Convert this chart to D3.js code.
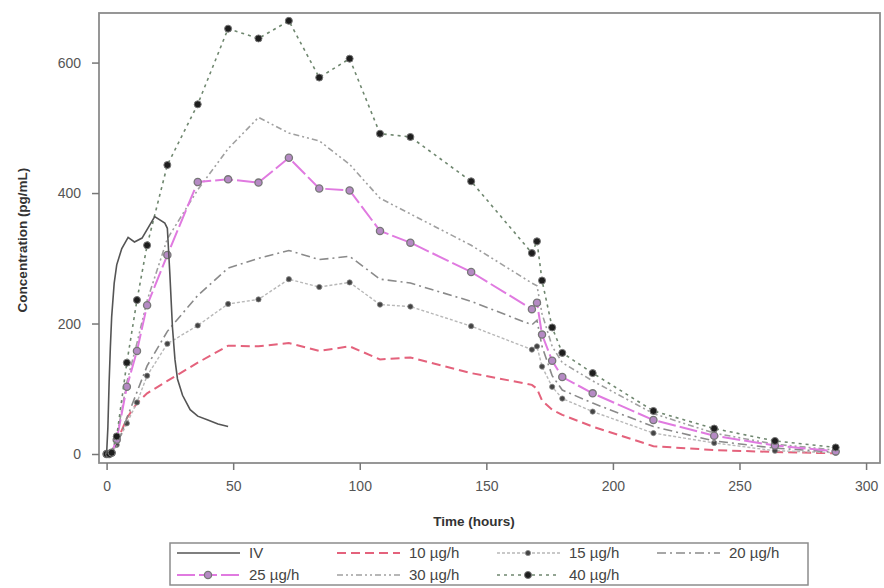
<!DOCTYPE html>
<html><head><meta charset="utf-8">
<script src="https://cdn.jsdelivr.net/npm/d3@7"></script>
<style>body{margin:0;background:#fff;} svg{font-family:"Liberation Sans",Arial,sans-serif;}</style>
</head><body>
<svg id="c" width="884" height="588"></svg>
<script>
const times = [0,1,2,4,8,12,16,24,36,48,60,72,84,96,108,120,144,168,170,172,176,180,192,216,240,264,288];
const ivTimes = [0,0.5,1,1.5,2,3,4,6,8.5,11,14,19,23,24,25,26,27,28,30,33,36,40,44,48];
const ivConc  = [0,40,110,165,210,262,290,315,332,325,331,364,354,346,275,195,145,115,90,68,58,52,46,42];
const c10 = [0,0,2,18,55,78,93,112,140,166,165,170,158,165,145,148,124,106,100,82,68,60,42,12,6,3,1];
const c15 = [0,0,1,14,47,79,120,169,197,230,237,268,256,263,229,226,196,160,165,134,103,85,65,32,17,5,2];
const c20 = [0,0,1,12,55,95,135,188,243,285,300,312,298,303,268,262,234,198,205,165,120,98,78,42,20,9,3];
const c25 = [0,0,2,22,103,158,228,305,417,421,416,454,407,404,342,324,279,222,232,183,143,118,93,52,28,13,4];
const c30 = [0,0,2,25,110,170,235,330,405,468,516,492,480,444,392,368,320,262,258,215,165,140,112,62,32,15,6];
const c40 = [0,0,2,27,140,236,320,443,536,652,637,664,577,606,491,486,418,308,326,266,194,155,124,66,39,20,10];
const xTicks = [0,50,100,150,200,250,300];
const yTicks = [0,200,400,600];
const seriesNames = ["IV","10 µg/h","15 µg/h","20 µg/h","25 µg/h","30 µg/h","40 µg/h"];

const svg = d3.select("#c");
const L=99,R=880,T=13,B=463;
const x = d3.scaleLinear().domain([-3,305.5]).range([L,R]);
const y = d3.scaleLinear().domain([-13.8,676]).range([B,T]);

const styles = {
 "IV":{color:"#555",w:1.6,dash:null,marker:null},
 "10 µg/h":{color:"#e4627c",w:2,dash:"9,5",marker:null},
 "15 µg/h":{color:"#b8b8b8",w:1.4,dash:"3,2",marker:"dot"},
 "20 µg/h":{color:"#8a8a8a",w:1.6,dash:"9,4,2,4",marker:null},
 "25 µg/h":{color:"#e07ae0",w:2,dash:"18,4",marker:"circ"},
 "30 µg/h":{color:"#a0a0a0",w:1.6,dash:"6,3,2,3,2,3",marker:null},
 "40 µg/h":{color:"#6f876f",w:1.6,dash:"3,4",marker:"fill"}
};
const data = {
 "IV": ivTimes.map((t,i)=>[t,ivConc[i]]),
 "10 µg/h": times.map((t,i)=>[t,c10[i]]),
 "15 µg/h": times.map((t,i)=>[t,c15[i]]),
 "20 µg/h": times.map((t,i)=>[t,c20[i]]),
 "25 µg/h": times.map((t,i)=>[t,c25[i]]),
 "30 µg/h": times.map((t,i)=>[t,c30[i]]),
 "40 µg/h": times.map((t,i)=>[t,c40[i]])
};

svg.append("rect").attr("x",L).attr("y",T).attr("width",R-L).attr("height",B-T)
  .attr("fill","none").attr("stroke","#8c8c8c").attr("stroke-width",1.8);

const xa = svg.append("g").attr("transform",`translate(0,${B})`)
  .call(d3.axisBottom(x).tickValues(xTicks).tickSize(7).tickPadding(11));
const ya = svg.append("g").attr("transform",`translate(${L},0)`)
  .call(d3.axisLeft(y).tickValues(yTicks).tickSize(7).tickPadding(11));
[xa,ya].forEach(a=>{
  a.select(".domain").remove();
  a.selectAll(".tick line").attr("stroke","#777").attr("stroke-width",1.5);
  a.selectAll(".tick text").attr("fill","#555").style("font-size","14px");
});

svg.append("text").attr("x",474).attr("y",526).attr("text-anchor","middle")
  .attr("fill","#333").style("font-size","13.5px").style("font-weight","bold").text("Time (hours)");
svg.append("text").attr("transform","translate(27,240) rotate(-90)").attr("text-anchor","middle")
  .attr("fill","#333").style("font-size","13.5px").style("font-weight","bold").text("Concentration (pg/mL)");

const line = d3.line().x(d=>x(d[0])).y(d=>y(d[1]));
const plot = svg.append("g");
function drawMarker(g,kind,cx,cy){
  if(kind==="dot") g.append("circle").attr("cx",cx).attr("cy",cy).attr("r",2.6).attr("fill","#444").attr("stroke","#888").attr("stroke-width",0.8);
  if(kind==="circ") g.append("circle").attr("cx",cx).attr("cy",cy).attr("r",3.6).attr("fill","#b58ac4").attr("stroke","#777").attr("stroke-width",1.3);
  if(kind==="fill") g.append("circle").attr("cx",cx).attr("cy",cy).attr("r",3.5).attr("fill","#1e1e1e").attr("stroke","#777").attr("stroke-width",1);
}
const order = ["10 µg/h","15 µg/h","20 µg/h","30 µg/h","25 µg/h","40 µg/h","IV"];
order.forEach(n=>{
  const s=styles[n];
  plot.append("path").datum(data[n]).attr("d",line).attr("fill","none")
    .attr("stroke",s.color).attr("stroke-width",s.w).attr("stroke-dasharray",s.dash);
  if(s.marker){ data[n].forEach(d=>drawMarker(plot,s.marker,x(d[0]),y(d[1]))); }
});

const lg = svg.append("g");
lg.append("rect").attr("x",170).attr("y",543).attr("width",638).attr("height",42)
  .attr("fill","#fff").attr("stroke","#8c8c8c").attr("stroke-width",1.5);
seriesNames.forEach((n,i)=>{
  const col=i<4?i:i-4, row=i<4?0:1;
  const x0=170+col*160, yy=553+row*22;
  const s=styles[n];
  lg.append("line").attr("x1",x0+7).attr("x2",x0+70).attr("y1",yy).attr("y2",yy)
    .attr("stroke",s.color).attr("stroke-width",s.w).attr("stroke-dasharray",s.dash);
  if(s.marker) drawMarker(lg,s.marker,x0+38,yy);
  lg.append("text").attr("x",x0+79).attr("y",yy+5).attr("fill","#444")
    .style("font-size","15px").text(n);
});
</script>
</body></html>
